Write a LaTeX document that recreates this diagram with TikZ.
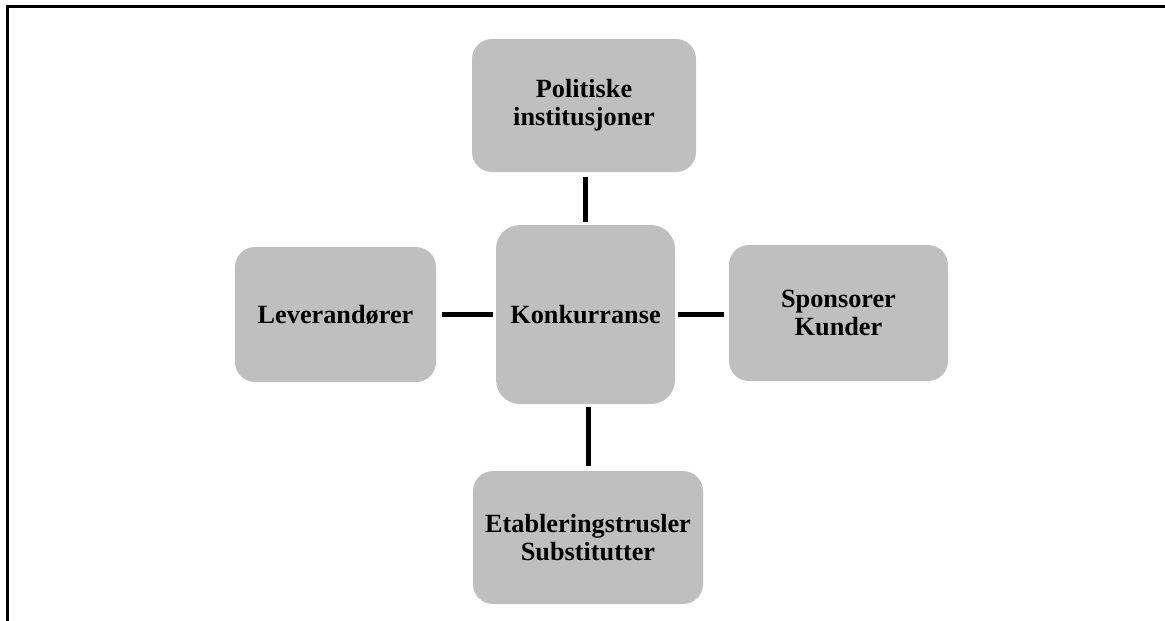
\documentclass[tikz,border=0pt]{standalone}
\usepackage{fontspec}
\setmainfont{Liberation Serif}
\usetikzlibrary{positioning}
\definecolor{feltgraa}{RGB}{191,191,191}

\begin{document}
\begin{tikzpicture}[x=0.75pt,y=-0.75pt,
  felt/.style={fill=feltgraa,rounded corners=15pt,align=center,inner sep=0pt,
    font=\fontsize{19.7}{21}\selectfont\bfseries},
  kobling/.style={line width=3.75pt,shorten <=2.25pt,shorten >=3.75pt}]
  \useasboundingbox (0,0) rectangle (1165,621);
  \draw[line width=2.25pt] (7.5,621) -- (7.5,6.7) -- (1165,6.7);

  \node[felt,rounded corners=18pt,minimum width=134.25pt,minimum height=134.25pt]
    (konk) at (585.5,314.5) {Konkurranse};
  \node[felt,minimum width=168pt,minimum height=99.75pt]
    (pol) at (584,105.5) {Politiske\\institusjoner};
  \node[felt,minimum width=150.75pt,minimum height=101.25pt]
    (lev) at (335.5,314.5) {Leverandører};
  \node[felt,minimum width=164.25pt,minimum height=102pt]
    (spon) at (838.5,313) {Sponsorer\\Kunder};
  \node[felt,minimum width=172.5pt,minimum height=99.75pt]
    (etab) at (588,537.5) {Etableringstrusler\\Substitutter};

  \draw[kobling] (konk.north) -- (konk.north |- pol.south);
  \draw[kobling,shorten >=4.5pt] (konk.west) -- (konk.west -| lev.east);
  \draw[kobling] (konk.east) -- (konk.east -| spon.west);
  \draw[kobling] (etab.north |- konk.south) -- (etab.north);
\end{tikzpicture}
\end{document}
